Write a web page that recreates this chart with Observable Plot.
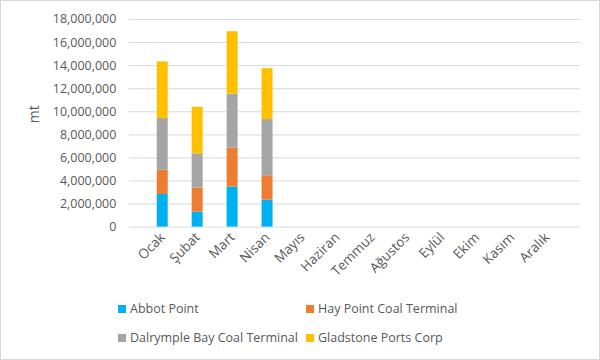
<!DOCTYPE html>
<html>
<head>
<meta charset="utf-8">
<script src="https://cdn.jsdelivr.net/npm/d3@7"></script>
<script src="https://cdn.jsdelivr.net/npm/@observablehq/plot@0.6"></script>
<style>
  html, body { margin: 0; padding: 0; background: #fff; }
  #wrap { position: relative; width: 598px; height: 358px; border: 1px solid #d9d9d9; overflow: hidden; font-family: "Open Sans", sans-serif; }
  #chart { position: absolute; left: -1px; top: -1px; }
  .legend { position: absolute; left: 0; top: 0; font-size: 12.5px; color: #595959; }
  .item { position: absolute; display: flex; align-items: center; white-space: nowrap; }
  .sw { width: 8px; height: 8px; margin-right: 4px; }
</style>
</head>
<body>
<div id="wrap">
  <div id="chart"></div>
  <div class="legend" id="legend"></div>
</div>
<script>
const months = ["Ocak", "Şubat", "Mart", "Nisan", "Mayıs", "Haziran", "Temmuz", "Ağustos", "Eylül", "Ekim", "Kasım", "Aralık"];
const series = ["Abbot Point", "Hay Point Coal Terminal", "Dalrymple Bay Coal Terminal", "Gladstone Ports Corp"];
const colors = ["#00B0F0", "#ED7D31", "#A5A5A5", "#FFC000"];
const dataMonths = ["Ocak", "Şubat", "Mart", "Nisan"];
const abbotPoint = [2830000, 1300000, 3460000, 2340000];
const hayPoint = [2110000, 2080000, 3380000, 2110000];
const dalrympleBay = [4470000, 2970000, 4680000, 4870000];
const gladstone = [4910000, 4040000, 5420000, 4420000];
const yTicks = [0, 2000000, 4000000, 6000000, 8000000, 10000000, 12000000, 14000000, 16000000, 18000000];

const seriesValues = [abbotPoint, hayPoint, dalrympleBay, gladstone];
const rows = [];
series.forEach((s, i) => {
  dataMonths.forEach((m, j) => rows.push({month: m, series: s, value: seriesValues[i][j]}));
});

const chart = Plot.plot({
  width: 600,
  height: 290,
  marginLeft: 129,
  marginRight: 19,
  marginTop: 19,
  marginBottom: 63,
  style: {fontFamily: "Open Sans, sans-serif", fontSize: "12px", color: "#595959", background: "transparent"},
  x: {domain: months, padding: 0.68, label: null},
  y: {domain: [0, 18000000], label: null},
  color: {domain: series, range: colors},
  marks: [
    Plot.gridY(yTicks, {stroke: "#d9d9d9", strokeOpacity: 1}),
    Plot.barY(rows, {x: "month", y: "value", fill: "series", order: series}),
    Plot.axisX({tickSize: 0, tickRotate: -45, tickPadding: 8, fontSize: 13.5, label: null}),
    Plot.axisY({ticks: yTicks, tickFormat: d3.format(","), tickSize: 0, tickPadding: 13, label: null, fontSize: 12.5}),
    Plot.text(["mt"], {frameAnchor: "left", dx: -95, rotate: -90, fontSize: 14, fill: "#595959"})
  ]
});
document.getElementById("chart").appendChild(chart);

const legend = document.getElementById("legend");
const pos = [[117, 308], [305, 308], [117, 337], [305, 337]];
series.forEach((s, i) => {
  const d = document.createElement("div");
  d.className = "item";
  d.style.left = pos[i][0] + "px";
  d.style.top = (pos[i][1] - 9) + "px";
  d.innerHTML = `<span class="sw" style="background:${colors[i]}"></span><span>${s}</span>`;
  legend.appendChild(d);
});
</script>
</body>
</html>
